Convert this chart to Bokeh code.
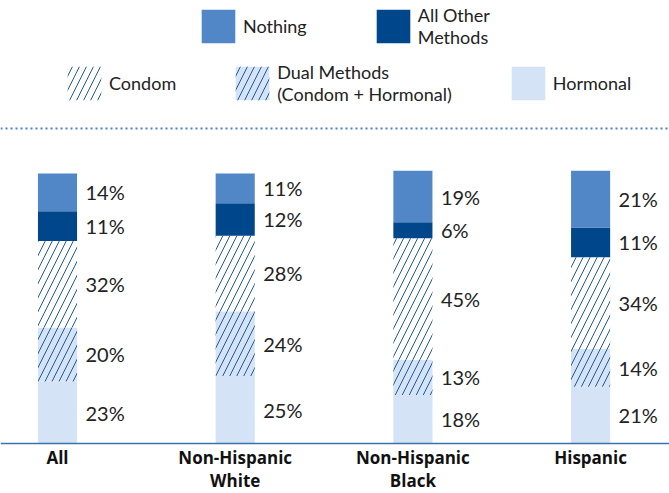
from bokeh.plotting import figure
from bokeh.models import Range1d, ColumnDataSource, Legend, LegendItem, Span, FixedTicker
from bokeh.core.properties import value
from bokeh.embed import file_html
from bokeh.resources import INLINE
import numpy as np

# ---- data ----
groups = ["All", "Non-Hispanic\nWhite", "Non-Hispanic\nBlack", "Hispanic"]
hormonal = [23, 25, 18, 21]
dual = [20, 24, 13, 14]
condom = [32, 28, 45, 34]
other = [11, 12, 6, 11]
nothing = [14, 11, 19, 21]

series_keys = ["hormonal", "dual", "condom", "other", "nothing"]
series_vals = [hormonal, dual, condom, other, nothing]

# ---- styles ----
FONT = "Lato"
C_NOTHING = "#5187c7"
C_OTHER = "#00468a"
C_HORM = "#d4e3f5"
C_HATCH = "#20599c"
fills = [C_HORM, C_HORM, "white", C_OTHER, C_NOTHING]
hatches = [" ", "/", "/", " ", " "]

xs = list(range(len(groups)))
data = {"x": xs}
for k, v in zip(series_keys, series_vals):
    data[k] = v
src = ColumnDataSource(data)

p = figure(width=669, height=493, output_backend="svg", toolbar_location=None,
           x_range=Range1d(-0.3208, 3.444), y_range=Range1d(-18.5, 164.1),
           min_border_left=0, min_border_right=0, min_border_top=0, min_border_bottom=0)
p.outline_line_color = None
p.grid.visible = False
p.yaxis.visible = False
p.background_fill_color = "white"
p.border_fill_color = "white"

rs = p.vbar_stack(series_keys, x="x", width=0.22, source=src,
                  fill_color=fills, line_color=None,
                  hatch_pattern=hatches, hatch_color=C_HATCH,
                  hatch_weight=1.0, hatch_scale=14)
r_horm, r_dual, r_condom, r_other, r_nothing = rs

# percentage labels
cum = np.zeros(len(groups))
for v in series_vals:
    arr = np.array(v, dtype=float)
    mids = cum + arr / 2
    cum = cum + arr
    p.text(x=xs, y=list(mids), text=[f"{int(a)}%" for a in v],
           x_offset=28, text_align="left", text_baseline="middle",
           text_font=value(FONT), text_font_size="20px", text_color="#222222")

# x axis, pinned at y=0
ax = p.xaxis[0]
ax.fixed_location = 0
ax.ticker = FixedTicker(ticks=xs)
ax.major_label_overrides = {i: g for i, g in zip(xs, groups)}
ax.major_tick_line_color = None
ax.minor_tick_line_color = None
ax.major_tick_out = 0
ax.minor_tick_out = 0
ax.axis_line_color = "#3e70ad"
ax.axis_line_width = 1.5
ax.major_label_text_font = "Open Sans"
ax.major_label_text_font_style = "bold"
ax.major_label_text_font_size = "17px"
ax.major_label_text_line_height = 1.0
ax.major_label_text_color = "#111111"
ax.major_label_standoff = 2

# dotted separator
p.add_layout(Span(location=116.7, dimension="width", line_color="#4a80c4",
                  line_width=2, line_dash="2 3"))

def mk_legend(items, loc, spacing):
    return Legend(items=items, orientation="horizontal", location=loc,
                  glyph_width=42, glyph_height=42, label_standoff=4, spacing=spacing,
                  padding=0, margin=0, border_line_color=None, background_fill_alpha=0,
                  label_text_font=FONT, label_text_font_size="18px",
                  label_text_color="#222222", label_text_line_height=1.1)

leg1 = mk_legend([LegendItem(label="Nothing", renderers=[r_nothing]),
                  LegendItem(label="All Other\nMethods", renderers=[r_other])], (197, 445), 65)
leg2 = mk_legend([LegendItem(label="Condom", renderers=[r_condom]),
                  LegendItem(label="Dual Methods\n(Condom + Hormonal)", renderers=[r_dual]),
                  LegendItem(label="Hormonal", renderers=[r_horm])], (63, 388), 55)
p.add_layout(leg1, "center")
p.add_layout(leg2, "center")

open("out.html", "w").write(file_html(p, INLINE))
